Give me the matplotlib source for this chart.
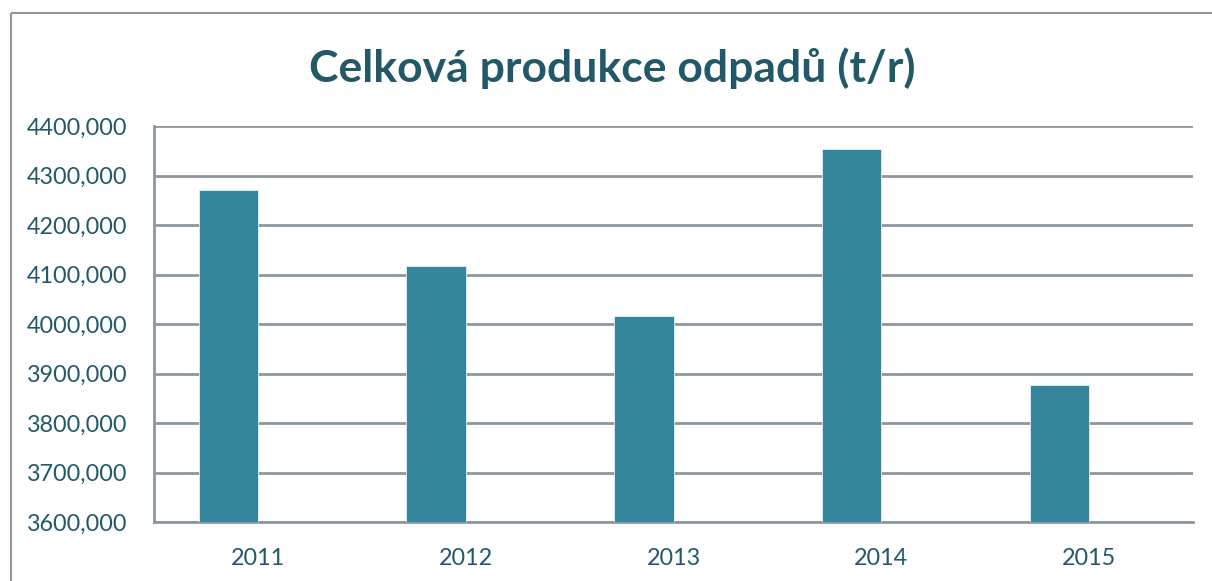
import matplotlib.pyplot as plt
from matplotlib.lines import Line2D

years = ['2011', '2012', '2013', '2014', '2015']
values = [4271, 4117, 4016, 4354, 3877]
yticks = [3600, 3700, 3800, 3900, 4000, 4100, 4200, 4300, 4400]

text_col = '#215968'
grid_col = '#8C979E'
bar_col = '#34869C'

plt.rcParams['font.family'] = ['Lato', 'DejaVu Sans']

fig = plt.figure(figsize=(12.12, 5.81), dpi=100)
# chart border: only top and left edges are inside the picture
bx, by = 10.5 / 1212, 1 - 13 / 581
fig.lines.append(Line2D([bx, 1.1], [by, by], transform=fig.transFigure,
                        color=grid_col, linewidth=1.5, solid_capstyle='butt'))
fig.lines.append(Line2D([bx, bx], [-0.1, by], transform=fig.transFigure,
                        color=grid_col, linewidth=1.5, solid_capstyle='butt'))

ax = fig.add_axes([154 / 1212, 1 - 522 / 581, 1039 / 1212, 396 / 581])
x = list(range(len(years)))
ax.bar(x, values, width=-0.285, align='edge', color=bar_col,
       edgecolor='#E8F1F3', linewidth=0.6, zorder=3)

ax.set_xlim(-0.5, len(years) - 0.5)
ax.set_ylim(3600, 4400)
ax.set_yticks(yticks)
ax.set_yticklabels([f'{v},000' for v in yticks])
ax.set_xticks(x)
ax.set_xticklabels(years)
ax.tick_params(length=0, labelsize=16.8, colors=text_col)
ax.tick_params(axis='y', pad=19)
ax.tick_params(axis='x', pad=19)
ax.yaxis.grid(True, color=grid_col, linewidth=2, zorder=0)
for s in ['top', 'right']:
    ax.spines[s].set_visible(False)
for s in ['left', 'bottom']:
    ax.spines[s].set_color(grid_col)
    ax.spines[s].set_linewidth(2)

fig.text(0.505, 1 - 68 / 581, 'Celková produkce odpadů (t/r)', ha='center',
         va='center', fontsize=32, fontweight='bold', color=text_col)

fig.savefig('out.png', dpi=100)
